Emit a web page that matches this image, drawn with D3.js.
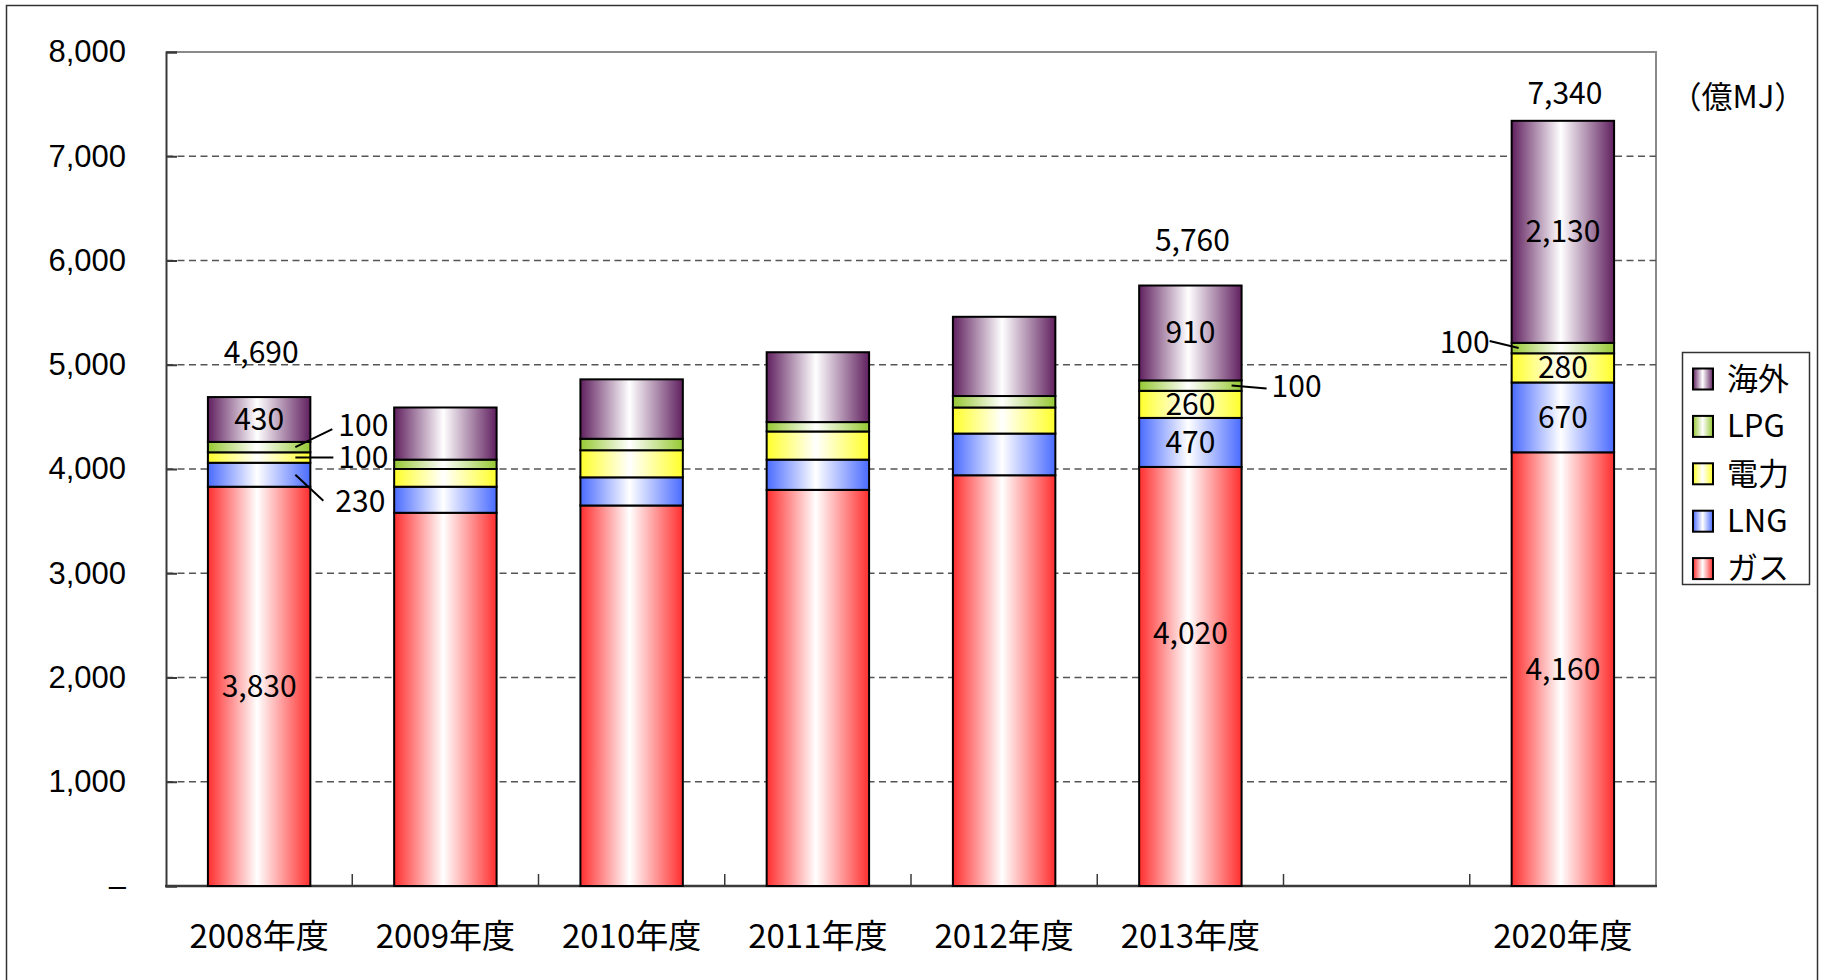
<!DOCTYPE html>
<html>
  <head>
    <meta charset="utf-8">
    <title>国内市場規模の推移</title>
    <script src="https://d3js.org/d3.v7.min.js"></script>
    <style>
      body { margin: 0; background: #fff; }
      svg { display: block; font-family: "Noto Sans CJK JP", "Noto Sans", sans-serif; }
      .grid line { stroke: #555; stroke-width: 1.5; stroke-dasharray: 7 4.5; }
      .seg { stroke: #000; stroke-width: 2; }
    </style>
  </head>
  <body>
    <svg id="chart" width="1824" height="980"></svg>
    <script>
      // data (億MJ)
      const years = ["2008年度", "2009年度", "2010年度", "2011年度", "2012年度", "2013年度", "", "2020年度"];
      const gas = [3830, 3580, 3650, 3800, 3940, 4020, null, 4160];
      const lng = [230, 250, 270, 290, 400, 470, null, 670];
      const power = [100, 170, 260, 270, 250, 260, null, 280];
      const lpg = [100, 90, 110, 90, 110, 100, null, 100];
      const overseas = [430, 500, 570, 670, 760, 910, null, 2130];
      const totals = [4690, null, null, null, null, 5760, null, 7340];
      const labelled = ["2008年度", "2013年度", "2020年度"];
      const yTicks = [0, 1000, 2000, 3000, 4000, 5000, 6000, 7000, 8000];

      // series bottom to top
      const series = [
        { key: "ガス", values: gas, colour: "#ff2e2e" },
        { key: "LNG", values: lng, colour: "#4a6bff" },
        { key: "電力", values: power, colour: "#ffff2a" },
        { key: "LPG", values: lpg, colour: "#96c832" },
        { key: "海外", values: overseas, colour: "#60205f" }
      ];

      // label placement tweaks (style only)
      const callouts = {
        "2008年度|LPG": { side: "right", inset: 15, dx: 22, dy: -18, tx: 28, ty: -22 },
        "2008年度|電力": { side: "right", inset: 15, dx: 23, dy: 0, tx: 28, ty: 0 },
        "2008年度|LNG": { side: "right", inset: 15, dx: 13, dy: 26, tx: 25, ty: 27 },
        "2013年度|LPG": { side: "right", inset: 10, dx: 25, dy: 3, tx: 30, ty: 1 },
        "2020年度|LPG": { side: "left", inset: 7, dx: 22, dy: -7, tx: 22, ty: -6 }
      };
      const nudge = { "2013年度|ガス": -43 };
      const totalLift = { "2020年度": 27 };

      const svg = d3.select("#chart");
      const margin = { left: 166, right: 1656, top: 52, bottom: 886 };

      const x = d3.scaleBand()
        .domain(years)
        .range([margin.left, margin.right])
        .paddingInner(0.45)
        .paddingOuter(0.225);
      const y = d3.scaleLinear()
        .domain([0, 8000])
        .range([margin.bottom, margin.top]);

      // gradients
      const defs = svg.append("defs");
      series.forEach(function(s, i) {
        const g = defs.append("linearGradient")
          .attr("id", "grad" + i)
          .attr("x1", "0%").attr("x2", "100%").attr("y1", "0%").attr("y2", "0%");
        g.append("stop").attr("offset", "0%").attr("stop-color", s.colour);
        g.append("stop").attr("offset", "48%").attr("stop-color", "#fff");
        g.append("stop").attr("offset", "100%").attr("stop-color", s.colour);
      });

      // outer frame
      svg.append("rect")
        .attr("x", 6.5).attr("y", 5.5)
        .attr("width", 1811).attr("height", 1000)
        .attr("fill", "none").attr("stroke", "#333").attr("stroke-width", 1.5);

      // plot border (top and right)
      svg.append("path")
        .attr("d", "M" + margin.left + "," + margin.top + "H" + margin.right + "V" + margin.bottom)
        .attr("fill", "none").attr("stroke", "#8a8a8a").attr("stroke-width", 2);

      // grid
      svg.append("g")
        .attr("class", "grid")
        .selectAll("line")
        .data(yTicks.filter(function(d) { return d > 0 && d < 8000; }))
        .join("line")
          .attr("x1", margin.left).attr("x2", margin.right)
          .attr("y1", function(d) { return y(d); })
          .attr("y2", function(d) { return y(d); });

      // y axis
      const yAxis = svg.append("g")
        .attr("transform", "translate(" + margin.left + ",0)")
        .call(d3.axisRight(y)
          .tickValues(yTicks)
          .tickSize(11)
          .tickFormat(function(d) { return d === 0 ? "–" : d3.format(",")(d); }));
      yAxis.select(".domain").attr("stroke", "#3a3a3a").attr("stroke-width", 2);
      yAxis.selectAll(".tick line").attr("stroke", "#3a3a3a").attr("stroke-width", 2);
      yAxis.selectAll(".tick text")
        .attr("x", -40)
        .attr("text-anchor", "end")
        .attr("font-size", 31)
        .attr("fill", "#000");

      // x axis
      const boundaries = d3.range(1, years.length).map(function(i) { return margin.left + i * x.step(); });
      svg.append("g")
        .selectAll("line")
        .data(boundaries)
        .join("line")
          .attr("x1", function(d) { return d; }).attr("x2", function(d) { return d; })
          .attr("y1", margin.bottom).attr("y2", margin.bottom - 12)
          .attr("stroke", "#3a3a3a").attr("stroke-width", 1.5);
      svg.append("line")
        .attr("x1", margin.left - 1).attr("x2", margin.right + 1)
        .attr("y1", margin.bottom).attr("y2", margin.bottom)
        .attr("stroke", "#3a3a3a").attr("stroke-width", 2.5);
      svg.append("g")
        .selectAll("text")
        .data(years.filter(function(d) { return d !== ""; }))
        .join("text")
          .attr("x", function(d) { return x(d) + x.bandwidth() / 2; })
          .attr("y", 948)
          .attr("text-anchor", "middle")
          .attr("font-size", 33)
          .text(function(d) { return d; });

      // stacked bars
      const stacked = [];
      years.forEach(function(yr, i) {
        if (yr === "") return;
        let base = 0;
        series.forEach(function(s, j) {
          stacked.push({ year: yr, key: s.key, idx: j, y0: base, y1: base + s.values[i], value: s.values[i] });
          base += s.values[i];
        });
      });

      svg.append("g")
        .selectAll("rect")
        .data(stacked)
        .join("rect")
          .attr("class", "seg")
          .attr("x", function(d) { return x(d.year); })
          .attr("width", x.bandwidth())
          .attr("y", function(d) { return y(d.y1); })
          .attr("height", function(d) { return y(d.y0) - y(d.y1); })
          .attr("fill", function(d) { return "url(#grad" + d.idx + ")"; });

      // segment labels
      const labels = svg.append("g").attr("font-size", 30);
      stacked.filter(function(d) { return labelled.indexOf(d.year) >= 0; })
        .forEach(function(d) {
          const id = d.year + "|" + d.key;
          const cy = y((d.y0 + d.y1) / 2);
          const left = x(d.year);
          const right = left + x.bandwidth();
          const c = callouts[id];
          if (!c) {
            labels.append("text")
              .attr("x", left + x.bandwidth() / 2)
              .attr("y", cy + (nudge[id] || 0))
              .attr("dy", "0.35em")
              .attr("text-anchor", "middle")
              .text(d3.format(",")(d.value));
            return;
          }
          const sx = c.side === "right" ? right - c.inset : left + c.inset;
          const ex = c.side === "right" ? right + c.dx : left - c.dx;
          labels.append("line")
            .attr("x1", sx).attr("y1", cy)
            .attr("x2", ex).attr("y2", cy + c.dy)
            .attr("stroke", "#000").attr("stroke-width", 2);
          labels.append("text")
            .attr("x", c.side === "right" ? right + c.tx : left - c.tx)
            .attr("y", cy + c.ty)
            .attr("dy", "0.35em")
            .attr("text-anchor", c.side === "right" ? "start" : "end")
            .text(d3.format(",")(d.value));
        });

      // totals above bars
      svg.append("g")
        .attr("font-size", 30)
        .selectAll("text")
        .data(years.map(function(yr, i) { return { year: yr, total: totals[i] }; })
          .filter(function(d) { return d.total !== null; }))
        .join("text")
          .attr("x", function(d) { return x(d.year) + x.bandwidth() / 2 + 2; })
          .attr("y", function(d) { return y(d.total) - (totalLift[d.year] || 45); })
          .attr("dy", "0.35em")
          .attr("text-anchor", "middle")
          .text(function(d) { return d3.format(",")(d.total); });

      // unit
      svg.append("text")
        .attr("x", 1738).attr("y", 97)
        .attr("dy", "0.35em")
        .attr("text-anchor", "middle")
        .attr("font-size", 31)
        .text("（億MJ）");

      // legend
      const legend = svg.append("g");
      legend.append("rect")
        .attr("x", 1682.5).attr("y", 352.5)
        .attr("width", 127).attr("height", 232)
        .attr("fill", "#fff").attr("stroke", "#333").attr("stroke-width", 1.5);
      const items = legend.selectAll("g")
        .data(series.slice().reverse())
        .join("g")
          .attr("transform", function(d, i) { return "translate(1693," + (379 + i * 47.4) + ")"; });
      items.append("rect")
        .attr("x", 0).attr("y", -10.5)
        .attr("width", 20).attr("height", 21)
        .attr("fill", function(d) { return "url(#grad" + series.indexOf(d) + ")"; })
        .attr("stroke", "#000").attr("stroke-width", 2);
      items.append("text")
        .attr("x", 34)
        .attr("dy", "0.35em")
        .attr("font-size", 31)
        .text(function(d) { return d.key; });
    </script>
  </body>
</html>
